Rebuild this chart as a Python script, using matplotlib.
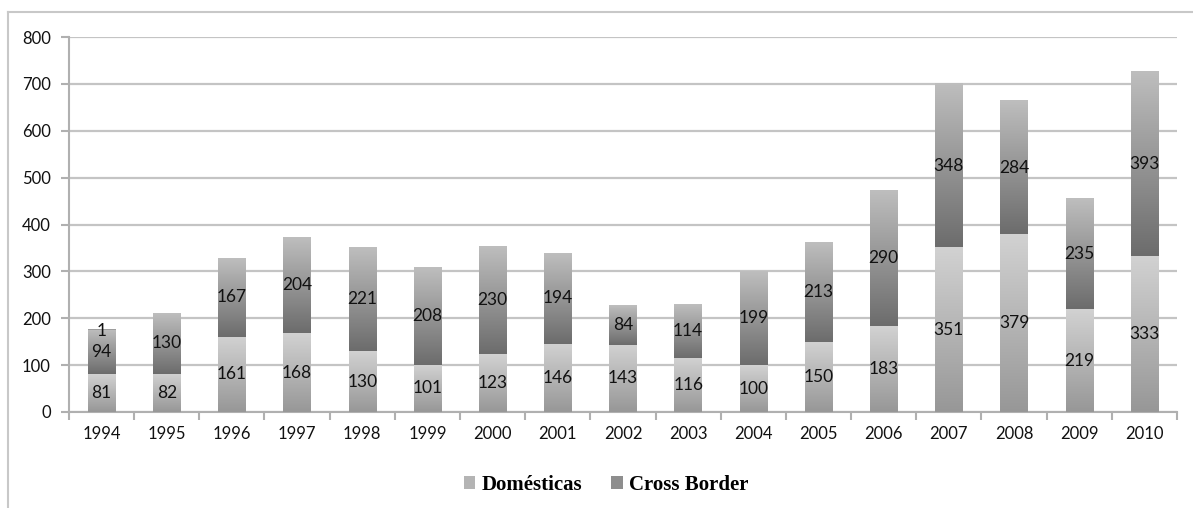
import numpy as np
import matplotlib
matplotlib.use("Agg")
import matplotlib.pyplot as plt
from matplotlib.colors import LinearSegmentedColormap
from matplotlib.patches import Patch
from matplotlib.lines import Line2D

# data
years = ['1994', '1995', '1996', '1997', '1998', '1999', '2000', '2001', '2002',
         '2003', '2004', '2005', '2006', '2007', '2008', '2009', '2010']
domesticas = [81, 82, 161, 168, 130, 101, 123, 146, 143, 116, 100, 150, 183, 351, 379, 219, 333]
cross_border = [94, 130, 167, 204, 221, 208, 230, 194, 84, 114, 199, 213, 290, 348, 284, 235, 393]
otros = [1, 0, 0, 0, 0, 0, 0, 0, 0, 0, 0, 0, 0, 0, 0, 0, 0]

yticks = [0, 100, 200, 300, 400, 500, 600, 700, 800]

fig = plt.figure(figsize=(11.93, 5.08), dpi=100)
ax = fig.add_axes([0.0578, 0.189, 0.9288, 0.738])

cm_dom = LinearSegmentedColormap.from_list('dom', ['#979797', '#d2d2d2'])
cm_cb = LinearSegmentedColormap.from_list('cb', ['#6c6c6c', '#bebebe'])
grad = np.linspace(0, 1, 256).reshape(-1, 1)

x = np.arange(len(years))
w = 0.42

def gradient_bars(bottoms, heights, cmap, label):
    bars = ax.bar(x, heights, w, bottom=bottoms, color='none', edgecolor='none',
                  label=label, zorder=3)
    for b, h, xi in zip(bottoms, heights, x):
        if h <= 0:
            continue
        ax.imshow(grad, cmap=cmap, origin='lower', aspect='auto',
                  extent=(xi - w / 2, xi + w / 2, b, b + h), zorder=3,
                  interpolation='bilinear')
    return bars

zeros = np.zeros(len(years))
dom = np.array(domesticas)
cb = np.array(cross_border)
ot = np.array(otros)

gradient_bars(zeros, dom, cm_dom, 'Domésticas')
gradient_bars(dom, cb, cm_cb, 'Cross Border')
gradient_bars(dom + cb, ot, cm_cb, '_otros')

lab_font = dict(family='Lato', fontsize=12.5, color='#111111', ha='center', va='center', zorder=5)
for i in range(len(years)):
    ax.text(x[i], dom[i] / 2, str(dom[i]), **lab_font)
    ax.text(x[i], dom[i] + cb[i] / 2, str(cb[i]), **lab_font)
    if ot[i] > 0:
        ax.text(x[i], dom[i] + cb[i] + ot[i] - 4, str(ot[i]), **lab_font)

ax.set_xlim(-0.5, len(years) - 0.5)
ax.set_ylim(0, 800)
ax.set_yticks(yticks)
ax.set_xticks(x)
ax.set_xticklabels(years)
ax.set_xticks(np.arange(-0.5, len(years), 1), minor=True)
ax.grid(axis='y', color='#c4c4c4', linewidth=1.6, zorder=0)
ax.set_axisbelow(True)

for s in ['top', 'right']:
    ax.spines[s].set_visible(False)
for s in ['left', 'bottom']:
    ax.spines[s].set_color('#b0b0b0')
    ax.spines[s].set_linewidth(1.5)

ax.tick_params(axis='x', which='major', length=0, pad=10, labelsize=12, labelcolor='#111111')
ax.tick_params(axis='x', which='minor', length=6, width=1.5, color='#b0b0b0')
ax.tick_params(axis='y', length=6, width=1.5, color='#b0b0b0', labelsize=12,
               labelcolor='#111111', pad=7)
for t in ax.get_xticklabels() + ax.get_yticklabels():
    t.set_fontfamily('Lato')

# chart frame
fig.add_artist(Line2D([8 / 1193, 1.0], [1 - 12 / 508, 1 - 12 / 508], color='#c8c8c8', lw=1.5,
                      transform=fig.transFigure))
fig.add_artist(Line2D([8 / 1193, 8 / 1193], [0.0, 1 - 12 / 508], color='#c8c8c8', lw=1.5,
                      transform=fig.transFigure))

handles = [Patch(facecolor='#b4b4b4', edgecolor='none'),
           Patch(facecolor='#8e8e8e', edgecolor='none')]
fig.legend(handles, ['Domésticas', 'Cross Border'], loc='center', bbox_to_anchor=(0.508, 0.045),
           ncol=2, frameon=False, handlelength=0.55, handleheight=0.55, handletextpad=0.3,
           columnspacing=1.4, prop={'family': 'Liberation Serif', 'weight': 'bold', 'size': 15})

fig.savefig('out.png', dpi=100)
